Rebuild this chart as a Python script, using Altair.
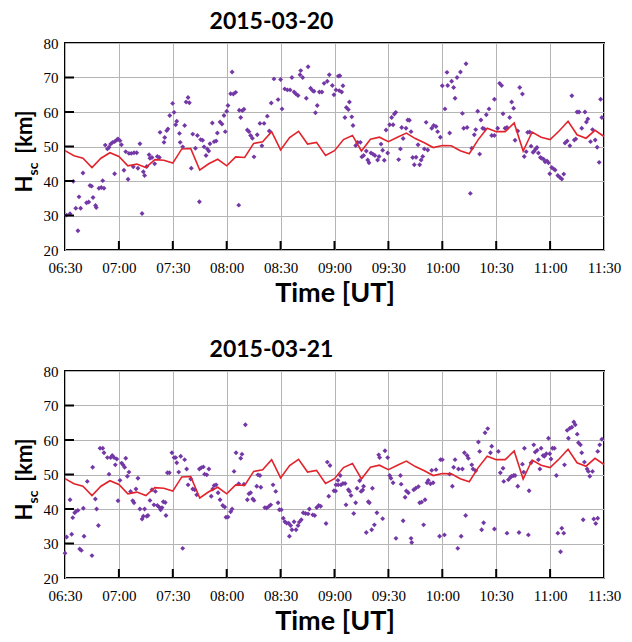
import altair as alt
import pandas as pd

# ---- data (minutes after 06:30 UT, scale height in km) ----
model_t = list(range(0, 301, 5))
model_h = [48.8, 47.3, 46.6, 43.9, 46.6, 48.2, 47.1, 44.4, 44.9, 43.9,
           46.2, 46.0, 45.2, 49.3, 49.4, 43.2, 45.0, 46.3, 44.4, 47.0,
           46.8, 50.9, 51.4, 54.3, 49.0, 52.6, 54.4, 50.7, 51.2, 47.4,
           48.8, 52.0, 53.2, 48.7, 52.1, 52.7, 51.4, 52.7, 53.9, 52.3,
           51.1, 49.7, 50.3, 50.2, 48.8, 47.9, 52.0, 55.3, 54.3, 54.3,
           56.8, 48.7, 54.2, 52.7, 52.0, 54.5, 57.3, 53.4, 52.4, 54.7, 52.9]

p1_t = [0.9, 2.8, 4.6, 6.0, 7.2, 7.8, 8.7, 10.0, 12.0, 13.2, 13.9, 14.8, 15.6, 17.0, 17.4,
        18.9, 20.2, 21.0, 21.7, 22.4, 23.6, 24.5, 25.4, 26.5, 27.6, 28.8, 29.5, 30.6, 31.4,
        27.6, 32.8, 33.8, 35.1, 35.6, 36.9, 38.4, 39.9, 38.0, 40.6, 41.7, 42.9, 43.6, 44.3,
        45.5, 46.8, 47.3, 48.4, 49.9, 51.4, 52.5, 52.9, 55.1, 55.5, 56.6, 57.3, 58.3, 59.9,
        60.7, 61.6, 62.2, 63.7, 64.1, 65.5, 66.6, 67.4, 68.5, 69.2, 70.3, 71.1, 72.6, 73.7,
        74.8, 75.5, 76.6, 77.4, 78.5, 79.2, 80.0, 80.7, 82.0, 83.0, 84.1, 84.8, 86.3, 87.4,
        88.5, 89.2, 90.0, 90.7, 92.2, 93.0, 93.7, 95.0, 96.7, 97.0, 97.8, 98.7, 99.6, 101.5,
        102.4, 103.3, 104.3, 105.2, 107.0, 108.5, 109.6, 110.8, 112.6, 113.7, 114.8, 116.3,
        118.6, 120.0, 120.8, 122.3, 123.8, 125.3, 126.3, 127.5, 128.6, 129.7, 130.8, 131.2,
        132.3, 134.3, 135.3, 136.7, 137.8, 138.6, 139.4, 140.4, 141.6, 143.0, 144.2, 146.0,
        147.1, 148.8, 149.7, 150.8, 152.1,
        152.6, 153.0, 154.0, 154.7, 155.8, 156.6, 157.7, 158.3, 159.6, 160.3, 161.8, 162.9,
        164.4, 165.2, 166.2, 167.7, 168.5, 169.2, 170.3, 171.4, 172.5, 174.0, 174.8, 175.9,
        176.8, 177.7, 178.7, 179.6, 180.7, 181.8, 182.6, 183.3, 184.1, 185.7, 186.7, 187.4,
        188.2, 189.8, 190.8, 191.7, 192.6, 193.5, 194.4, 195.4, 196.5, 197.4, 198.2, 199.1,
        200.0, 201.0, 201.9, 204.1, 205.2, 206.5, 207.4, 208.9, 210.0, 211.5, 212.6, 213.0,
        214.1, 215.2, 216.3, 217.1, 218.2, 220.1, 221.2, 221.9, 223.2, 223.8, 225.6, 226.4,
        227.8, 228.6, 229.7, 230.8, 231.5, 232.5, 233.4, 234.5, 236.0, 237.5, 239.0, 239.0,
        240.8, 241.9, 243.0, 243.8, 244.9, 246.0, 247.5, 248.6, 249.7, 250.5, 252.0, 253.1,
        254.6, 255.6, 256.7, 257.5, 258.6, 259.4, 260.5, 261.2, 262.0, 262.7, 263.5, 264.6,
        265.3, 266.4, 267.2, 268.3, 269.1, 269.8, 270.9, 272.0, 272.8, 274.3, 275.4, 276.5,
        277.6, 278.3, 279.5, 281.0, 282.1, 283.5, 284.3, 285.0, 286.1, 287.6, 289.4, 290.2,
        291.0, 292.5, 293.6, 295.1, 296.2, 297.3, 298.1, 298.8]
p1_h = [30.1, 30.5, 39.9, 32.1, 25.6, 35.4, 32.1, 42.3, 33.7, 33.9, 38.7, 38.5, 35.2, 32.9, 32.3,
        37.9, 38.1, 40.1, 37.9, 50.4, 49.3, 49.8, 50.7, 51.2, 51.4, 51.9, 52.2, 51.7, 50.5,
        42.1, 43.1, 48.5, 40.5, 48.0, 48.0, 48.2, 48.2, 44.1, 43.7, 50.8, 30.6, 42.7, 41.6,
        44.2, 47.6, 46.6, 46.8, 45.0, 47.1, 46.8, 54.1, 51.2, 52.6, 54.6, 55.1, 59.0, 62.5,
        59.9, 56.3, 57.3, 53.8, 51.2, 49.9, 56.1, 62.9, 64.2, 62.7, 43.7, 53.6, 49.5, 53.2,
        34.0, 52.0, 51.8, 49.9, 47.4, 49.3, 48.7, 50.8, 56.8, 51.4, 51.6, 53.9, 57.1, 56.5,
        59.0, 54.3, 60.2, 61.9, 65.3, 71.6, 65.2, 65.7, 33.0, 60.5, 58.4, 60.4, 60.8, 54.8,
        54.3, 53.2, 52.4, 47.0, 53.4, 56.7, 50.2, 56.7, 58.8, 54.5, 62.6, 69.6,
        63.6, 69.4, 60.9, 66.7, 66.4, 66.4, 70.0, 65.8, 65.2, 64.8, 70.8, 72.0,
        70.0, 64.0, 73.1, 66.9, 66.2, 66.0, 59.8, 61.9, 65.8, 65.8, 68.3, 68.9,
        70.8, 67.7, 65.0, 66.4, 70.4,
        66.2, 70.5, 65.8, 67.6, 58.4, 61.3, 60.7, 62.9, 58.6, 56.1, 50.3, 51.2,
        51.2, 47.0, 47.4, 48.7, 46.1, 45.3, 48.1, 47.8, 47.4, 46.1, 47.1, 50.7,
        48.9, 46.0, 54.8, 48.1, 56.3, 58.4, 56.3, 59.4, 59.9, 46.2, 49.3, 55.5,
        52.3, 55.3, 57.7, 57.6, 54.3, 46.8, 44.7, 46.9, 50.5, 44.7, 46.1, 47.1,
        49.3, 57.0, 49.0, 55.3, 56.1, 55.8, 54.3, 52.7, 67.6, 60.9, 71.5, 67.7,
        53.9, 68.9, 67.1, 64.0, 70.0, 71.6, 59.6, 55.3, 74.0, 55.5, 36.4, 49.5,
        53.4, 54.9, 60.2, 47.8, 57.7, 55.3, 55.1, 59.2, 60.9, 53.2, 53.2, 63.7,
        55.3, 68.3, 67.7, 59.5, 55.3, 55.5, 58.4, 62.9, 61.1, 51.8, 54.5, 67.1,
        65.2, 47.1, 48.5, 54.1, 54.2, 50.1, 48.3, 48.7, 49.3, 49.7, 48.1, 46.8,
        46.6, 46.3, 45.6, 45.8, 45.3, 42.1, 43.9, 43.5, 43.2, 41.6, 41.1, 40.6,
        42.0, 51.0, 51.6, 50.2, 64.7, 51.9, 52.2, 60.0, 60.0, 55.3, 60.0, 57.1,
        58.0, 51.4, 54.9, 51.9, 49.8, 45.4, 63.7, 58.4]

p2_t = [0.0, 0.9, 2.8, 3.7, 4.3, 5.4, 6.1, 7.2, 8.2, 9.1, 10.2, 10.6, 12.4, 15.0, 15.4, 16.9,
        17.6, 18.6, 19.5, 21.0, 21.7, 23.6, 24.5, 25.4, 26.3, 27.3, 28.0, 28.8, 29.5, 30.6,
        31.5, 32.3, 33.2, 33.8, 34.7, 35.6, 36.5, 37.7, 38.4, 39.5, 40.6, 41.7, 42.9, 43.6,
        44.3, 45.5, 46.2, 47.3, 48.4, 49.5, 50.3, 51.4, 52.5, 53.2, 54.0, 54.7, 55.8, 56.2,
        57.0, 58.1, 59.5, 60.7, 61.6, 62.2, 63.3, 64.4, 65.5, 66.6, 67.7, 68.5, 70.0, 71.1,
        72.2, 73.3, 74.8, 75.9, 77.0, 77.7, 78.9, 80.1, 81.4, 82.2, 83.0, 84.1, 85.2, 86.3,
        87.8, 88.9, 89.6, 90.7, 92.2, 93.0, 94.1, 95.2, 96.7, 97.8, 98.5, 99.6, 100.4, 101.5,
        102.4, 103.3, 104.5, 105.2, 106.7, 107.4, 108.5, 109.0, 111.2, 112.2, 113.4, 114.5,
        115.8, 117.3, 118.6, 119.3, 120.4, 121.5, 122.4, 123.4, 124.5, 124.9, 125.6, 126.3,
        127.5, 128.6, 129.7, 130.4, 131.5, 132.6, 133.9, 135.3, 136.0, 137.9, 139.0, 140.1,
        141.2, 142.3, 145.3, 146.0, 146.8, 147.5, 149.7, 150.8, 151.9,
        150.6, 152.1, 153.2, 153.6, 154.7, 155.9, 156.4, 157.7, 158.4, 159.2, 160.7, 161.8,
        162.5, 164.0, 164.8, 165.7, 166.2, 167.7, 168.8, 169.4, 170.7, 171.1, 172.2, 173.6,
        174.6, 175.1, 176.8, 178.1, 179.6, 180.7, 181.4, 182.6, 184.2, 186.7, 187.1, 188.2,
        189.3, 190.0, 191.1, 192.6, 193.0, 194.1, 195.2, 196.7, 197.4, 198.5, 199.6, 200.4,
        201.5, 202.2, 203.4, 204.1, 204.9, 206.5, 208.5, 209.0, 210.0, 211.2, 214.1, 215.6,
        216.3, 217.1, 218.6, 219.0, 220.5, 221.2, 222.3, 223.0, 223.8, 224.5, 226.4, 227.1,
        228.6, 230.1, 230.8, 231.9, 233.0, 233.8, 235.3, 236.8, 237.5, 239.0, 241.2, 242.3,
        243.8, 244.2, 246.0, 246.8, 247.9, 248.6, 249.7, 250.5, 252.0, 252.7, 254.6, 255.3,
        255.7, 257.9, 258.3, 259.4, 260.9, 261.7, 262.8, 263.5, 264.3, 265.0, 266.1, 266.8,
        267.9, 269.1, 269.8, 270.5, 271.3, 272.4, 273.5, 274.3, 275.8, 276.5, 277.6, 278.0,
        279.5, 280.2, 281.0, 282.1, 283.2, 284.0, 285.1, 285.8, 286.9, 287.6, 288.4, 289.1,
        290.6, 291.3, 292.1, 293.6, 294.3, 295.4, 296.5, 296.5, 297.6, 298.8]
p2_h = [27.2, 31.9, 42.7, 32.7, 37.5, 38.9, 39.3, 39.6, 28.4, 28.0, 40.2, 32.1, 48.0, 26.5, 52.1, 42.9,
        40.0, 35.2, 57.6, 57.6, 56.3, 54.9, 50.1, 54.9, 55.5, 54.9, 52.8, 54.5, 42.4, 48.3,
        53.3, 52.8, 52.1, 54.7, 49.5, 50.7, 45.1, 42.4, 41.8, 45.8, 48.9, 40.0, 37.1, 37.9,
        40.0, 37.9, 38.1, 42.5, 45.6, 41.2, 45.1, 41.0, 40.5, 39.8, 40.4, 42.1, 41.9, 38.1,
        50.5, 50.5, 56.3, 54.9, 54.9, 53.4, 50.7, 55.3, 28.6, 54.3, 51.6, 47.0, 48.7, 45.8,
        45.6, 44.1, 51.6, 52.0, 52.2, 50.1, 49.9, 51.6, 43.7, 45.8, 46.8, 47.0, 44.7, 42.7,
        41.0, 40.6, 37.6, 37.7, 39.2, 40.0, 50.9, 56.3, 47.3, 54.7, 55.9, 47.2, 64.4, 42.7,
        44.4, 44.7, 42.9, 42.5, 46.6, 49.9, 49.7, 46.3, 40.4, 40.3, 40.7, 41.2,
        47.0, 45.1, 41.8, 39.8, 39.8, 37.3, 36.3, 35.9, 35.9, 32.1, 35.2, 34.0,
        36.3, 34.0, 35.2, 36.2, 36.9, 38.9, 38.7, 38.6, 40.0, 38.3, 38.1, 40.4,
        41.0, 40.8, 35.8, 53.6, 43.7, 52.6, 45.3, 47.0, 48.3,
        45.2, 47.0, 49.7, 47.0, 47.4, 47.4, 41.2, 45.6, 45.1, 43.9, 38.7, 41.8,
        46.0, 48.2, 45.1, 45.5, 46.6, 33.2, 42.1, 41.8, 34.0, 46.0, 35.4, 38.9,
        55.7, 54.9, 37.2, 56.9, 54.9, 49.7, 48.9, 47.6, 31.5, 49.7, 47.2, 36.6,
        43.4, 45.2, 44.7, 31.5, 30.3, 45.6, 46.0, 46.5, 41.8, 42.0, 35.4, 42.7,
        47.6, 48.3, 47.3, 51.2, 47.6, 51.4, 32.1, 54.3, 54.3, 32.5, 50.1, 46.6,
        52.1, 54.3, 28.6, 51.6, 32.1, 51.6, 56.3, 38.1, 55.5, 54.7, 52.8, 51.6,
        51.1, 59.4, 56.7, 34.0, 36.0, 62.1, 63.3, 56.3, 58.2, 34.2, 56.7, 50.5,
        51.8, 48.0, 33.0, 48.5, 49.2, 49.5, 49.7, 49.7, 46.6, 33.2, 53.0, 50.7,
        57.6, 32.5, 45.3, 53.4, 58.6, 56.5, 57.0, 54.3, 51.6, 57.6, 55.5, 55.3,
        56.0, 60.5, 56.0, 54.5, 57.6, 57.6, 49.7, 33.0, 27.6, 34.4, 33.0, 52.8,
        62.8, 60.5, 63.4, 63.7, 65.2, 64.4, 61.7, 59.2, 58.6, 56.3, 36.9, 53.6,
        51.6, 50.9, 49.5, 50.9, 37.1, 35.8, 37.3, 56.7, 58.6, 60.2]

panel_titles = ["2015-03-20", "2015-03-21"]
x_tick_values = list(range(0, 301, 30))
x_inner_ticks = list(range(30, 300, 30))
y_tick_values = [20, 30, 40, 50, 60, 70, 80]
y_inner_ticks = [30, 40, 50, 60, 70]

W, H = 539, 207
PURPLE = "#7438a6"
RED = "#e3232b"
LABEL_EXPR = "timeFormat(datetime(2015, 2, 20, 6, 30 + datum.value), '%H:%M')"


def x_enc(field):
    return alt.X(f"{field}:Q",
                 scale=alt.Scale(domain=[0, 300], nice=False, zero=False),
                 axis=alt.Axis(values=x_tick_values, labelExpr=LABEL_EXPR,
                               title="Time [UT]", grid=True, ticks=False,
                               domain=False, labelFlush=False,
                               labelPadding=10, titlePadding=5))


def y_enc(field):
    return alt.Y(f"{field}:Q",
                 scale=alt.Scale(domain=[20, 80], nice=False, zero=False),
                 axis=alt.Axis(values=y_tick_values, title=None, grid=True,
                               ticks=False, domain=False, labelPadding=7))


def panel(t, h, title):
    pts = pd.DataFrame({"t": t, "h": h})
    mdl = pd.DataFrame({"t": model_t, "h": model_h})
    xt = pd.DataFrame({"t": x_inner_ticks})
    yt = pd.DataFrame({"h": y_inner_ticks})
    one = pd.DataFrame({"a": [0]})

    points = alt.Chart(pts).mark_point(shape="diamond", filled=True, size=24,
                                       color=PURPLE, opacity=1).encode(
        x=x_enc("t"), y=y_enc("h"))
    line = alt.Chart(mdl).mark_line(color=RED, strokeWidth=1.6).encode(
        x=x_enc("t"), y=y_enc("h"))
    xticks = alt.Chart(xt).mark_rule(color="black", strokeWidth=2).encode(
        x=x_enc("t"), y=alt.value(H), y2=alt.value(H - 9))
    yticks = alt.Chart(yt).mark_rule(color="black", strokeWidth=2).encode(
        y=y_enc("h"), x=alt.value(0), x2=alt.value(9))
    t_h = alt.Chart(one).mark_text(text="H", angle=270, font="Lato", fontWeight="bold",
                                   fontSize=22, color="black").encode(
        x=alt.value(-40), y=alt.value(141))
    t_sc = alt.Chart(one).mark_text(text="sc", angle=270, font="Lato", fontWeight="bold",
                                    fontSize=14, color="black").encode(
        x=alt.value(-31), y=alt.value(126))
    t_km = alt.Chart(one).mark_text(text="[km]", angle=270, font="Lato", fontWeight="bold",
                                    fontSize=22, color="black").encode(
        x=alt.value(-40), y=alt.value(89))

    return alt.layer(points, line, xticks, yticks, t_h, t_sc, t_km).properties(
        width=W, height=H,
        title=alt.TitleParams(text=title, font="Lato", fontSize=23, fontWeight="bold",
                              anchor="middle", offset=2, dx=-63, color="black"))


chart = alt.vconcat(panel(p1_t, p1_h, panel_titles[0]),
                    panel(p2_t, p2_h, panel_titles[1]),
                    spacing=31).properties(
    padding={"left": 5, "top": 2, "right": 0, "bottom": 0}
).configure_view(stroke="black", strokeWidth=2).configure_axis(
    labelFont="Liberation Serif", labelFontSize=15, labelColor="black",
    titleFont="Lato", titleFontSize=27, titleFontWeight="bold", titleColor="black",
    gridColor="#b5b5b5", gridWidth=1)

chart.save("out.html", embed_options={"renderer": "svg", "actions": False})
